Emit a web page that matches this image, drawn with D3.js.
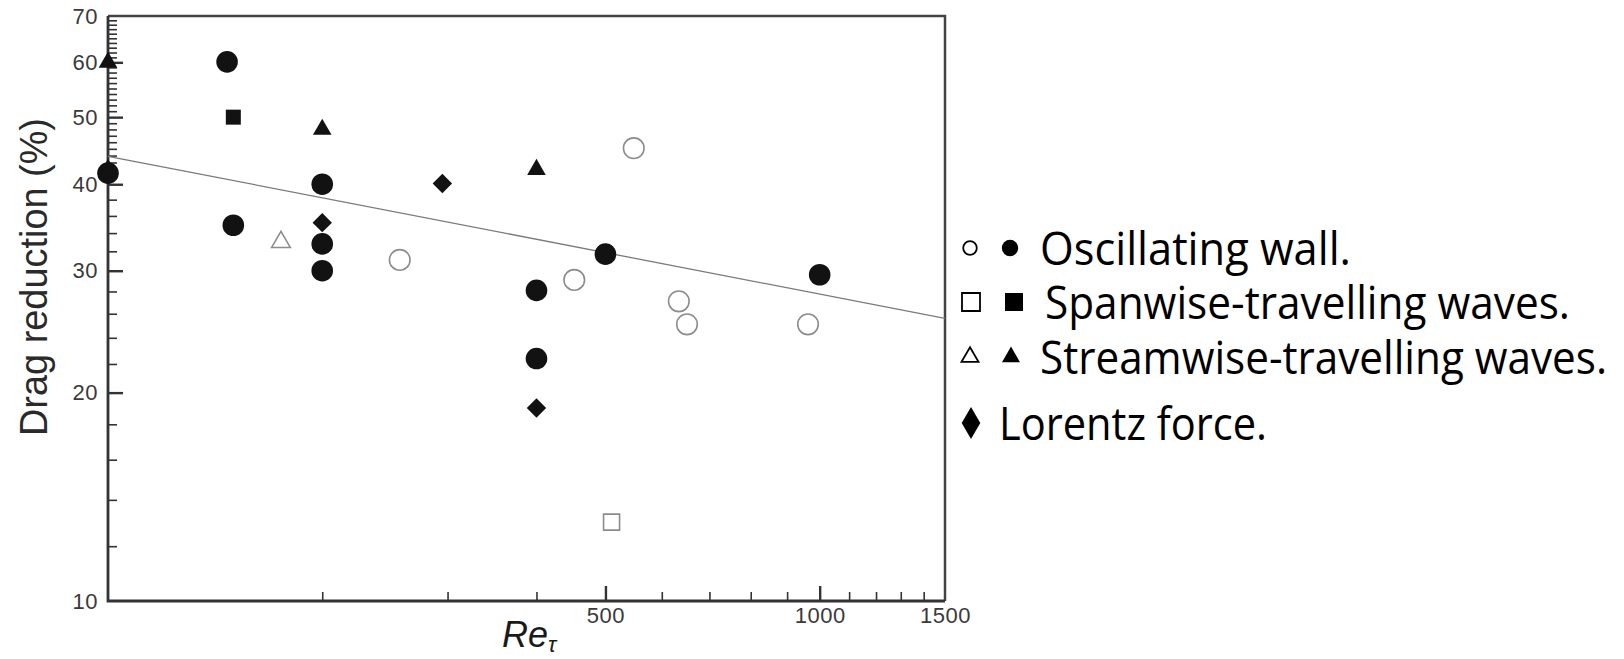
<!DOCTYPE html>
<html>
<head>
<meta charset="utf-8">
<script src="https://cdn.jsdelivr.net/npm/d3@7"></script>
<style>
  html, body { margin: 0; padding: 0; background: #fff; }
  svg { display: block; }
</style>
</head>
<body>
<svg id="chart" width="1624" height="659"></svg>
<script>
// Drag reduction against friction Reynolds number, log-log axes.

// Oscillating wall: open and filled circles
const oscOpenRe   = [257, 452, 548, 634, 651, 963];
const oscOpenDR   = [31.1, 29.1, 45.1, 27.1, 25.1, 25.1];
const oscFilledRe = [100, 147, 150, 200, 200, 200, 400, 400, 500, 1000];
const oscFilledDR = [41.5, 60.1, 34.9, 40.0, 32.8, 30.0, 28.1, 22.4, 31.7, 29.6];

// Spanwise-travelling waves: open and filled squares
const spanOpenRe   = [510];
const spanOpenDR   = [13.0];
const spanFilledRe = [150];
const spanFilledDR = [50.0];

// Streamwise-travelling waves: open and filled triangles
const streamOpenRe   = [175];
const streamOpenDR   = [33.0];
const streamFilledRe = [100, 100, 200, 400];
const streamFilledDR = [60.0, 42.0, 48.0, 42.0];

// Lorentz force: diamonds
const lorentzRe = [200, 295, 400];
const lorentzDR = [35.2, 40.1, 19.0];

// Power-law trend line end points
const fitRe = [100, 1500];
const fitDR = [43.9, 25.6];

// Axis ticks
const xTickLabels = [500, 1000, 1500];
const xMajorTicks = [500, 1000];
const xMinorTicks = [200, 300, 400, 600, 700, 800, 900, 1100, 1200, 1300, 1400];
const yTickLabels = [10, 20, 30, 40, 50, 60, 70];
const yMajorTicks = [20, 30, 40, 50, 60];
const yMinorTicks = [12, 14, 16, 18, 22, 24, 26, 28, 32, 34, 36, 38,
                     41, 42, 43, 44, 45, 46, 47, 48, 49,
                     51, 52, 53, 54, 55, 56, 57, 58, 59,
                     61, 62, 63, 64, 65, 66, 67, 68, 69];

// Legend entries
const legendLabels = ["Oscillating wall.", "Spanwise-travelling waves.",
                      "Streamwise-travelling waves.", "Lorentz force."];

const svg = d3.select("#chart");

const plot = { left: 108, right: 945, top: 16, bottom: 601 };

const x = d3.scaleLog().domain([100, 1500]).range([plot.left, plot.right]);
const y = d3.scaleLog().domain([10, 70]).range([plot.bottom, plot.top]);

const axisColor = "#333";
const tickFont = "'Liberation Sans', Arial, sans-serif";

// ---- frame (top and right sides)
svg.append("path")
  .attr("d", `M${plot.left},${plot.top}H${plot.right}V${plot.bottom}`)
  .attr("fill", "none")
  .attr("stroke", "#444")
  .attr("stroke-width", 2.5);

function styleAxis(g) {
  g.select(".domain").remove();
  g.selectAll(".tick line").attr("stroke", axisColor).attr("stroke-width", 1.6);
  g.selectAll("text")
    .attr("fill", "#3a3a3a")
    .attr("font-family", tickFont)
    .attr("font-size", 22)
    .attr("letter-spacing", 0.5);
}

// ---- x axis
svg.append("g")
  .attr("transform", `translate(0,${plot.bottom})`)
  .call(d3.axisBottom(x).tickValues(xMinorTicks).tickSize(-9).tickFormat(""))
  .call(styleAxis);

svg.append("g")
  .attr("transform", `translate(0,${plot.bottom})`)
  .call(d3.axisBottom(x).tickValues(xMajorTicks).tickSize(-15).tickFormat(""))
  .call(styleAxis)
  .call(g => g.selectAll(".tick line").attr("stroke-width", 2.4));

svg.append("g")
  .attr("transform", `translate(0,${plot.bottom})`)
  .call(d3.axisBottom(x).tickValues(xTickLabels).tickSize(0).tickPadding(6).tickFormat(d3.format("d")))
  .call(styleAxis);

// ---- y axis
svg.append("g")
  .attr("transform", `translate(${plot.left},0)`)
  .call(d3.axisLeft(y).tickValues(yMinorTicks).tickSize(-9).tickFormat(""))
  .call(styleAxis);

svg.append("g")
  .attr("transform", `translate(${plot.left},0)`)
  .call(d3.axisLeft(y).tickValues(yMajorTicks).tickSize(-15).tickFormat(""))
  .call(styleAxis)
  .call(g => g.selectAll(".tick line").attr("stroke-width", 2.4));

svg.append("g")
  .attr("transform", `translate(${plot.left},0)`)
  .call(d3.axisLeft(y).tickValues(yTickLabels).tickSize(0).tickPadding(10).tickFormat(d3.format("d")))
  .call(styleAxis);

// axis lines on left and bottom
svg.append("path")
  .attr("d", `M${plot.left},${plot.top}V${plot.bottom}H${plot.right}`)
  .attr("fill", "none")
  .attr("stroke", axisColor)
  .attr("stroke-width", 2.8);

// ---- axis titles
svg.append("text")
  .attr("transform", `translate(47,277) rotate(-90)`)
  .attr("text-anchor", "middle")
  .attr("font-family", tickFont)
  .attr("font-size", 38)
  .attr("fill", "#2a2a2a")
  .attr("textLength", 318)
  .attr("lengthAdjust", "spacingAndGlyphs")
  .text("Drag reduction (%)");

const xt = svg.append("text")
  .attr("x", 502)
  .attr("y", 647)
  .attr("font-family", tickFont)
  .attr("font-size", 36)
  .attr("font-style", "italic")
  .attr("fill", "#1a1a1a");
xt.append("tspan").text("Re");
xt.append("tspan").attr("font-size", 22).attr("dy", 5).text("τ");

// ---- trend line
const fitPts = fitRe.map((r, i) => [x(r), y(fitDR[i])]);
svg.append("path")
  .attr("d", d3.line()(fitPts))
  .attr("fill", "none")
  .attr("stroke", "#7a7a7a")
  .attr("stroke-width", 1.3);

// ---- markers
const filled = "#121212";
const openStroke = "#8c8c8c";

function zip(re, dr) { return re.map((r, i) => ({ re: r, dr: dr[i] })); }

function drawSeries(data, type, size, isFilled) {
  svg.append("g").selectAll("path")
    .data(data)
    .join("path")
    .attr("transform", d => `translate(${x(d.re)},${y(d.dr)})`)
    .attr("d", d3.symbol().type(type).size(size))
    .attr("fill", isFilled ? filled : "#fff")
    .attr("fill-opacity", isFilled ? 1 : 0)
    .attr("stroke", isFilled ? "none" : openStroke)
    .attr("stroke-width", isFilled ? 0 : 1.6);
}

drawSeries(zip(oscOpenRe, oscOpenDR), d3.symbolCircle, Math.PI * 10.3 * 10.3, false);
drawSeries(zip(spanOpenRe, spanOpenDR), d3.symbolSquare, 16 * 16, false);
drawSeries(zip(streamOpenRe, streamOpenDR), d3.symbolTriangle, 150, false);
drawSeries(zip(oscFilledRe, oscFilledDR), d3.symbolCircle, Math.PI * 10.8 * 10.8, true);
drawSeries(zip(spanFilledRe, spanFilledDR), d3.symbolSquare, 15 * 15, true);
drawSeries(zip(streamFilledRe, streamFilledDR), d3.symbolTriangle, 150, true);
drawSeries(zip(lorentzRe, lorentzDR), d3.symbolDiamond2, 240, true);

// ---- legend
const legendRowY = [248, 302, 357, 423];
const legendTextX = [1040, 1045, 1040, 999];
const legendTextW = [311, 525, 567, 268];
const legendFont = "'Open Sans', 'Liberation Sans', sans-serif";

const lg = svg.append("g");

function legendSymbol(cx, cy, type, size, isFilled) {
  lg.append("path")
    .attr("transform", `translate(${cx},${cy})`)
    .attr("d", d3.symbol().type(type).size(size))
    .attr("fill", isFilled ? "#000" : "none")
    .attr("stroke", isFilled ? "none" : "#000")
    .attr("stroke-width", 1.8);
}

legendSymbol(970, legendRowY[0], d3.symbolCircle, Math.PI * 6.8 * 6.8, false);
legendSymbol(1010, legendRowY[0], d3.symbolCircle, Math.PI * 8.2 * 8.2, true);
legendSymbol(971, legendRowY[1], d3.symbolSquare, 18 * 18, false);
legendSymbol(1014, legendRowY[1], d3.symbolSquare, 18 * 18, true);
legendSymbol(970, legendRowY[2], d3.symbolTriangle, 125, false);
legendSymbol(1011, legendRowY[2], d3.symbolTriangle, 140, true);
legendSymbol(971, legendRowY[3], d3.symbolDiamond, 300, true);

lg.selectAll("text")
  .data(legendLabels)
  .join("text")
  .attr("x", (d, i) => legendTextX[i])
  .attr("y", (d, i) => legendRowY[i] + 17)
  .attr("font-family", legendFont)
  .attr("font-size", 46)
  .attr("fill", "#000")
  .attr("textLength", (d, i) => legendTextW[i])
  .attr("lengthAdjust", "spacingAndGlyphs")
  .text(d => d);
</script>
</body>
</html>
